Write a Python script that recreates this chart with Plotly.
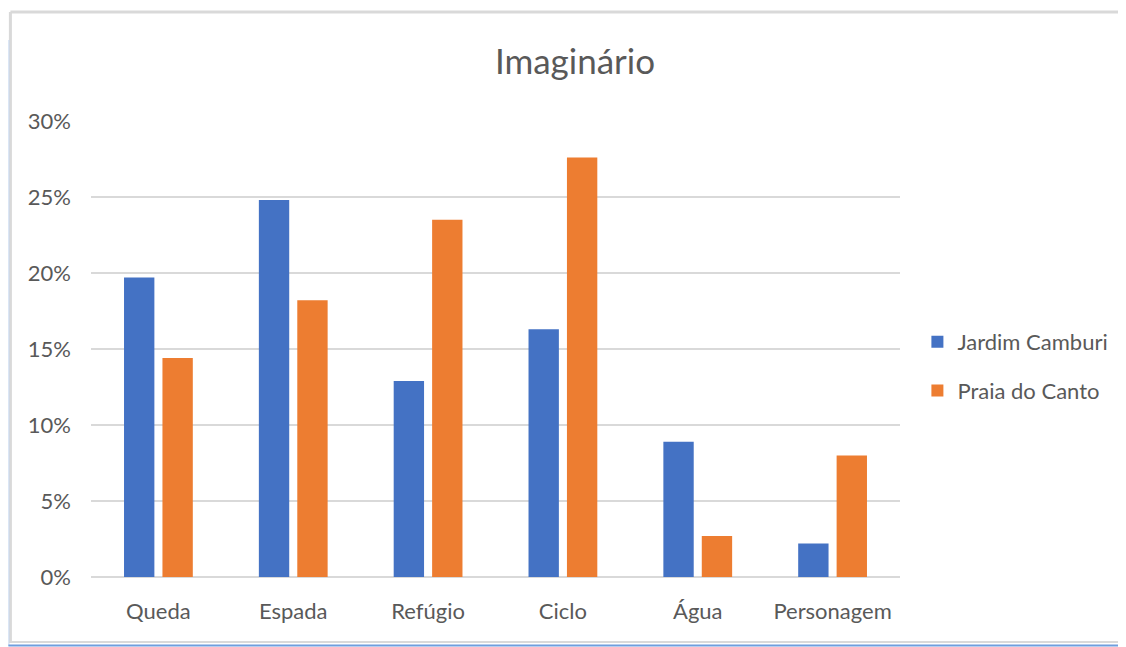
import plotly.graph_objects as go

categories = ["Queda", "Espada", "Refúgio", "Ciclo", "Água", "Personagem"]
jardim_camburi = [0.197, 0.248, 0.129, 0.163, 0.089, 0.022]
praia_do_canto = [0.144, 0.182, 0.235, 0.276, 0.027, 0.080]
y_ticks = [0, 0.05, 0.10, 0.15, 0.20, 0.25, 0.30]
y_tick_labels = ["0%", "5%", "10%", "15%", "20%", "25%", "30%"]

# page has an 8px body margin, so the figure is laid out in coordinates offset by 8px
OFF = 8
W, H = 1126 - OFF, 647 - OFF
L, R, T, B = 90.6 - OFF, 226.4, 121 - OFF, 70
FONT = "Lato"
TXT = "#595959"

fig = go.Figure()
fig.add_trace(go.Bar(x=categories, y=jardim_camburi, name="Jardim Camburi",
                     marker=dict(color="#4472C4", line=dict(width=0)),
                     legendgroup="a"))
fig.add_trace(go.Bar(x=categories, y=praia_do_canto, name="Praia do Canto",
                     marker=dict(color="#ED7D31", line=dict(width=0)),
                     legendgroup="b"))

pw = W - L - R
ph = H - T - B
def px(x):
    return (x - OFF - L) / pw
def py(y):
    return (H - B - (y - OFF)) / ph

shapes = [
    dict(type="line", xref="paper", yref="paper", x0=px(10), x1=px(1140), y0=py(12), y1=py(12),
         line=dict(color="#d9d9d9", width=3)),
    dict(type="line", xref="paper", yref="paper", x0=px(10), x1=px(10), y0=py(12), y1=py(643),
         line=dict(color="#d9d9d9", width=3)),
    dict(type="line", xref="paper", yref="paper", x0=px(8.5), x1=px(8.5), y0=py(40), y1=py(646),
         line=dict(color="#c5d7f1", width=1)),
    dict(type="line", xref="paper", yref="paper", x0=px(10), x1=px(1140), y0=py(642), y1=py(642),
         line=dict(color="#d9d9d9", width=2)),
    dict(type="line", xref="paper", yref="paper", x0=px(8), x1=px(1140), y0=py(645.5), y1=py(645.5),
         line=dict(color="#6f9ede", width=2)),
]

fig.update_layout(
    width=W, height=H,
    margin=dict(l=L, r=R, t=T, b=B, pad=0),
    paper_bgcolor="white", plot_bgcolor="white",
    font=dict(family=FONT, color=TXT, size=22),
    title=dict(text="Imaginário", x=(575 - OFF) / W, xanchor="center", xref="container",
               y=1 - (62 - OFF) / H, yanchor="middle", yref="container",
               font=dict(family=FONT, size=35, color=TXT)),
    barmode="group", bargap=0.43, bargroupgap=0.21,
    showlegend=True,
    legend=dict(x=px(917), xanchor="left", y=py(366.5), yanchor="middle",
                font=dict(family=FONT, size=22, color=TXT), tracegroupgap=17,
                bgcolor="rgba(0,0,0,0)"),
    shapes=shapes,
)
fig.update_xaxes(showgrid=False, showline=False, ticks="", ticklabelstandoff=19,
                 tickfont=dict(family=FONT, size=22, color=TXT), zeroline=False)
fig.update_yaxes(range=[0, 0.30], tickvals=y_ticks, ticktext=y_tick_labels,
                 showgrid=True, gridcolor="#d9d9d9", gridwidth=2,
                 zeroline=True, zerolinecolor="#d9d9d9", zerolinewidth=2,
                 showline=False, ticks="", ticklabelstandoff=19,
                 tickfont=dict(family=FONT, size=22, color=TXT))

fig.write_html("out.html")
